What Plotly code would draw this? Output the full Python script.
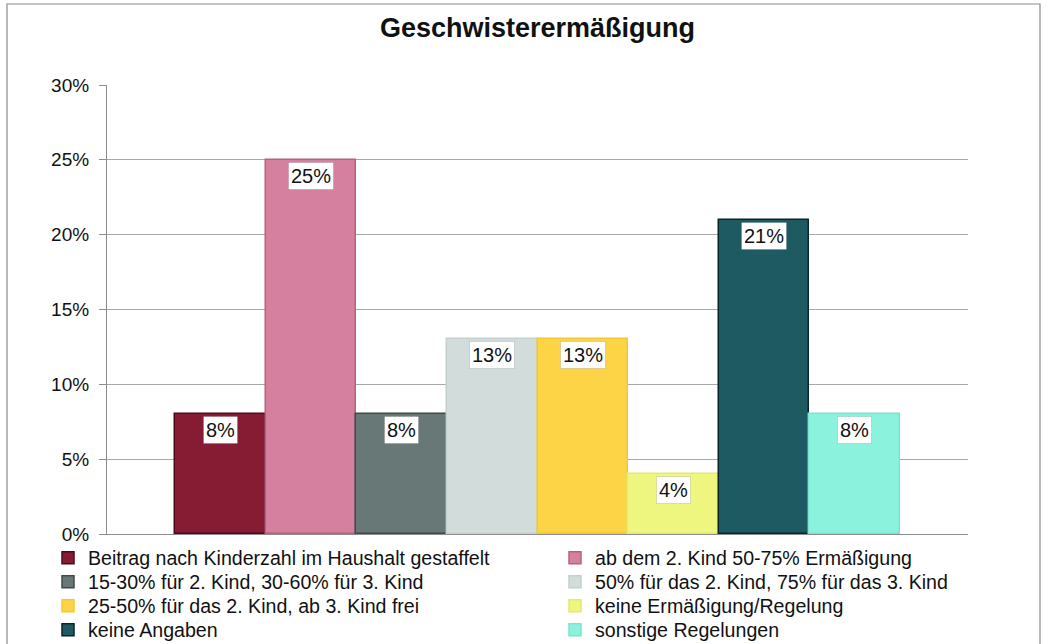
import plotly.graph_objects as go

title = "Geschwisterermäßigung"
categories = [
    "Beitrag nach Kinderzahl im Haushalt gestaffelt",
    "ab dem 2. Kind 50-75% Ermäßigung",
    "15-30% für 2. Kind, 30-60% für 3. Kind",
    "50% für das 2. Kind, 75% für das 3. Kind",
    "25-50% für das 2. Kind, ab 3. Kind frei",
    "keine Ermäßigung/Regelung",
    "keine Angaben",
    "sonstige Regelungen",
]
values = [8, 25, 8, 13, 13, 4, 21, 8]
tick_values = [0, 5, 10, 15, 20, 25, 30]
tick_labels = ["0%", "5%", "10%", "15%", "20%", "25%", "30%"]

fill_colors = ["#861C33", "#D6809F", "#687877", "#D1DCDB",
               "#FDD446", "#EEF67F", "#1E5A62", "#8BF2DE"]
line_colors = ["#4E0A18", "#B8607F", "#3E4B4A", "#C4CFCE",
               "#F2C835", "#E2EA70", "#0A2529", "#7CE3CF"]

FONT = "Liberation Sans, Arial, sans-serif"
L, T, W, H = 107, 85, 861, 449
FIG_W, FIG_H = 1047, 644

# legend layout: two columns, four rows
col_text_x = [88, 595]
row_center_y = [558, 582, 606, 630]

fig = go.Figure()
legend_layouts = {}
for i, (name, v, fc, lc) in enumerate(zip(categories, values, fill_colors, line_colors)):
    key = "legend" if i == 0 else f"legend{i + 1}"
    fig.add_trace(go.Bar(
        x=[name], y=[v], name=name,
        marker=dict(color=fc, line=dict(color=lc, width=1.5)),
        hoverinfo="skip", legend=key,
    ))
    col, row = i % 2, i // 2
    legend_layouts[key] = dict(
        x=(col_text_x[col] - 40 - L) / W, xanchor="left",
        y=(T + H - row_center_y[row]) / H, yanchor="middle",
        orientation="v", itemwidth=30, borderwidth=0,
        bgcolor="rgba(0,0,0,0)",
        font=dict(family=FONT, size=19.6, color="#111111"),
    )

for name, v in zip(categories, values):
    fig.add_annotation(
        x=name, y=v, xref="x", yref="y",
        text=f"{v}%", showarrow=False,
        yanchor="top", yshift=-2,
        bgcolor="white", borderpad=2,
        bordercolor="rgba(0,0,0,0.12)", borderwidth=1,
        font=dict(family=FONT, size=20, color="#111111"),
    )

# outer chart border
fig.add_shape(type="rect", xref="paper", yref="paper",
              x0=(7 - L) / W, x1=(1040 - L) / W,
              y0=(T + H - 660) / H, y1=(T + H - 4) / H,
              line=dict(color="#8c8c8c", width=1.2), fillcolor="rgba(0,0,0,0)",
              layer="below")

fig.update_layout(
    width=FIG_W, height=FIG_H,
    margin=dict(l=L, r=FIG_W - L - W, t=T, b=FIG_H - T - H, autoexpand=False),
    paper_bgcolor="white", plot_bgcolor="white",
    barmode="overlay", bargap=0,
    title=dict(text=f"<b>{title}</b>", x=0.5, xref="paper", xanchor="center",
               yref="container", y=1 - 28 / FIG_H, yanchor="middle",
               font=dict(family=FONT, size=27, color="#111111")),
    font=dict(family=FONT, size=19, color="#111111"),
    showlegend=True,
    xaxis=dict(
        range=[-1.25, len(categories) + 0.25],
        showticklabels=False, ticks="", showgrid=False,
        showline=True, linecolor="#8c8c8c", linewidth=1.2,
        fixedrange=True,
    ),
    yaxis=dict(
        range=[0, 30], tickvals=tick_values, ticktext=tick_labels,
        showgrid=True, gridcolor="#a8a8a8", gridwidth=1,
        showline=True, linecolor="#8c8c8c", linewidth=1.2,
        ticks="outside", ticklen=7, tickcolor="#8c8c8c",
        zeroline=False, ticklabelstandoff=6,
        tickfont=dict(family=FONT, size=19, color="#111111"),
    ),
    **legend_layouts,
)

fig.write_html(
    "out.html",
    config={"displayModeBar": False},
    post_script="document.body.style.margin='0';document.body.style.overflow='hidden';",
)
